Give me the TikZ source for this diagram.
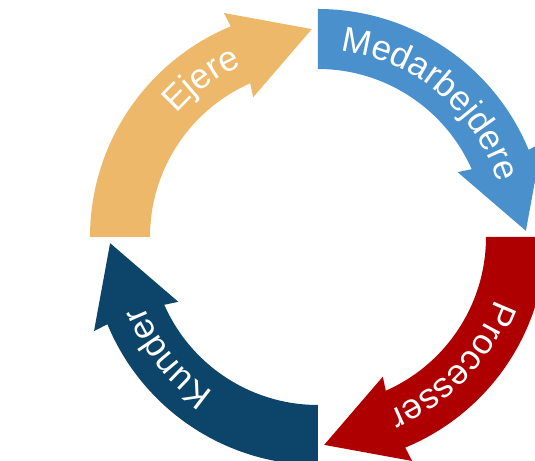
\documentclass[tikz,border=0pt]{standalone}
\usepackage{fontspec}
\setmainfont{Liberation Sans}
\usetikzlibrary{decorations.text}

\definecolor{ejerecol}{HTML}{EDB86A}
\definecolor{medarbcol}{HTML}{4A90CD}
\definecolor{proccol}{HTML}{AE0000}
\definecolor{kundecol}{HTML}{0D4469}

\begin{document}
\begin{tikzpicture}[line join=miter]
  \tikzset{circarrow/.style={draw=none},
    word/.style={decorate,decoration={text along path,text align=center,
      text={|\fontsize{20}{20}\selectfont\color{white}|#1}}}}
  \clip (-6.36,-4.48) rectangle (4.34,4.74);
  \useasboundingbox (-6.36,-4.48) rectangle (4.34,4.74);
  % the four quarter arrows, turned clockwise
  \fill[circarrow,ejerecol] (180:4.56) arc[start angle=180,end angle=112.5,radius=4.56]
    -- (112.8:4.86) -- (91.7:4.16) -- (114.9:3.08) -- (113.8:3.36)
    arc[start angle=113.8,end angle=180,radius=3.36] -- cycle;
  \fill[circarrow,medarbcol,rotate=-90] (180:4.56) arc[start angle=180,end angle=112.5,radius=4.56]
    -- (112.8:4.86) -- (91.7:4.16) -- (114.9:3.08) -- (113.8:3.36)
    arc[start angle=113.8,end angle=180,radius=3.36] -- cycle;
  \fill[circarrow,proccol,rotate=-180] (180:4.56) arc[start angle=180,end angle=112.5,radius=4.56]
    -- (112.8:4.86) -- (91.7:4.16) -- (114.9:3.08) -- (113.8:3.36)
    arc[start angle=113.8,end angle=180,radius=3.36] -- cycle;
  \fill[circarrow,kundecol,rotate=-270] (180:4.56) arc[start angle=180,end angle=112.5,radius=4.56]
    -- (112.8:4.86) -- (91.7:4.16) -- (114.9:3.08) -- (113.8:3.36)
    arc[start angle=113.8,end angle=180,radius=3.36] -- cycle;
  % labels along the arcs
  \path[word=Ejere] (176.5:3.75) arc[start angle=176.5,end angle=76.5,radius=3.75];
  \path[word=Medarbejdere] (100:3.75) arc[start angle=100,end angle=0,radius=3.75];
  \path[word=Processer] (6.3:3.75) arc[start angle=6.3,end angle=-93.7,radius=3.75];
  \path[word=Kunder] (268.8:3.75) arc[start angle=268.8,end angle=168.8,radius=3.75];
\end{tikzpicture}
\end{document}
